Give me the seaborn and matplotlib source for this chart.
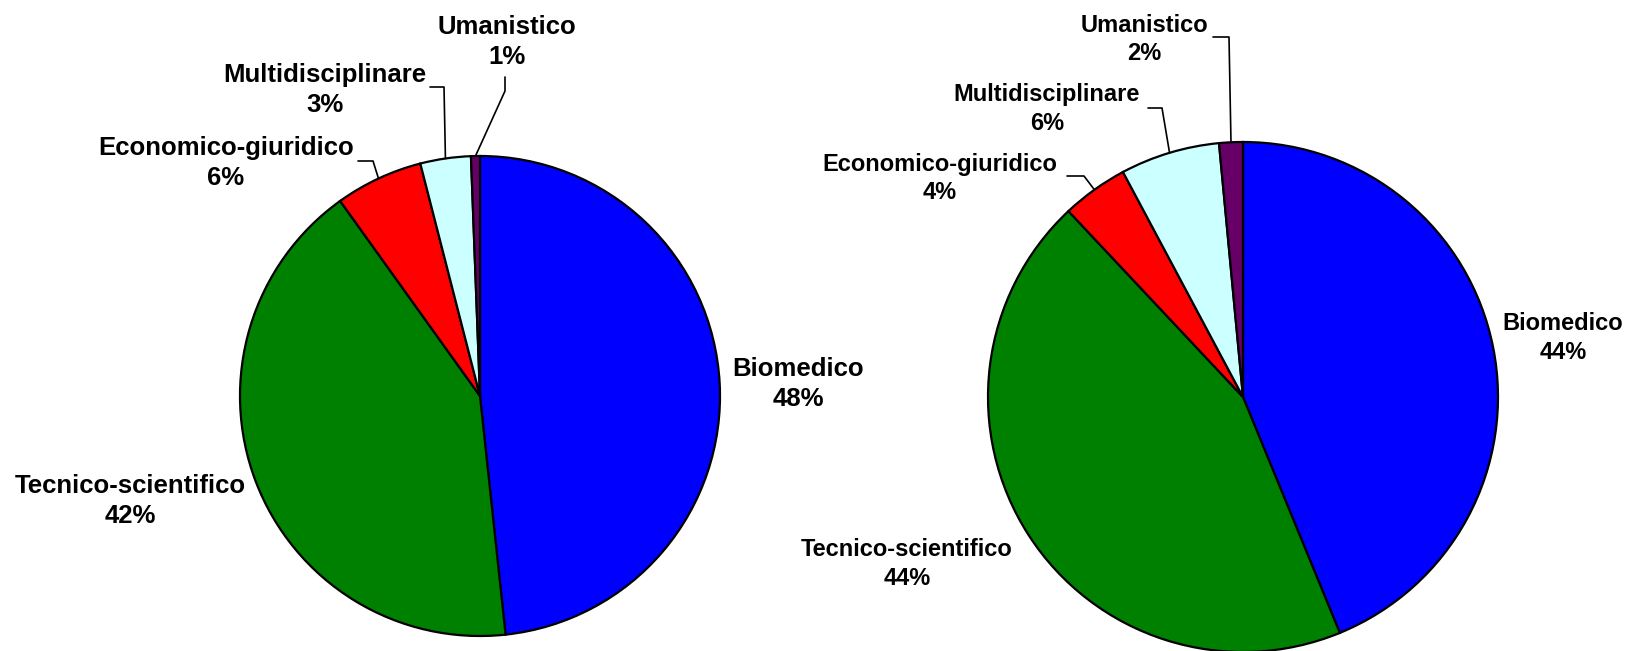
import numpy as np
import matplotlib
matplotlib.use("Agg")
import matplotlib.pyplot as plt
import seaborn as sns
from matplotlib.lines import Line2D

# ---- data ----
categories = ["Biomedico", "Tecnico-scientifico", "Economico-giuridico",
              "Multidisciplinare", "Umanistico"]
values_left = [48.3, 41.8, 5.9, 3.4, 0.6]
values_right = [43.8, 44.2, 4.2, 6.3, 1.5]
colors = ["#0000FF", "#008000", "#FF0000", "#CCFFFF", "#660066"]

# ---- layout (pixel coordinates of the 1630x651 canvas) ----
W, H = 1630, 651
sns.set_theme(style="white")
plt.rcParams['font.family'] = ['Liberation Sans', 'DejaVu Sans']
palette = sns.color_palette(colors)

pies = [
    dict(values=values_left, center=(480, 396), radius=240, fontsize=18.5, linespacing=1.33,
         labels={0: (798, 384), 1: (130, 501), 2: (226, 163), 3: (325, 90), 4: (507, 42)},
         leaders={2: [(358, 161), (373, 161)], 3: [(430, 87), (444, 87)],
                  4: [(505, 77), (505, 91)]}),
    dict(values=values_right, center=(1243, 397), radius=255, fontsize=17, linespacing=1.32,
         labels={0: (1563, 338), 1: (907, 564), 2: (940, 178.5), 3: (1047, 109), 4: (1144, 39.5)},
         leaders={2: [(1067, 176), (1084, 176)], 3: [(1148, 108), (1162, 108)],
                  4: [(1213, 37), (1229, 37)]}),
]

fig = plt.figure(figsize=(W / 100, H / 100), dpi=100)
fig.patch.set_facecolor('white')


def fx(x):
    return x / W


def fy(y):
    return 1 - y / H


for p in pies:
    cx, cy = p["center"]
    r = p["radius"]
    ax = fig.add_axes([(cx - r) / W, (H - cy - r) / H, 2 * r / W, 2 * r / H])
    wedges, _ = ax.pie(p["values"], colors=palette, startangle=90, counterclock=False,
                       radius=1, wedgeprops=dict(edgecolor='black', linewidth=1.6))
    for w in wedges:
        w.set_clip_on(False)
    ax.set_xlim(-1, 1)
    ax.set_ylim(-1, 1)
    ax.axis('off')

    total = sum(p["values"])
    for i, (name, v) in enumerate(zip(categories, p["values"])):
        pct = int(v / total * 100 + 0.5)
        lx, ly = p["labels"][i]
        fig.text(fx(lx), fy(ly), f"{name}\n{pct}%", ha='center', va='center',
                 fontsize=p["fontsize"], fontweight='bold', linespacing=p["linespacing"],
                 color='black')
        if i in p["leaders"]:
            w = wedges[i]
            mid = np.deg2rad((w.theta1 + w.theta2) / 2)
            ex = cx + r * np.cos(mid)
            ey = cy - r * np.sin(mid)
            pts = p["leaders"][i] + [(ex, ey)]
            xs = [fx(a) for a, _ in pts]
            ys = [fy(b) for _, b in pts]
            fig.add_artist(Line2D(xs, ys, transform=fig.transFigure,
                                  color='black', lw=1.2))

fig.savefig("out.png", dpi=100, facecolor='white')
